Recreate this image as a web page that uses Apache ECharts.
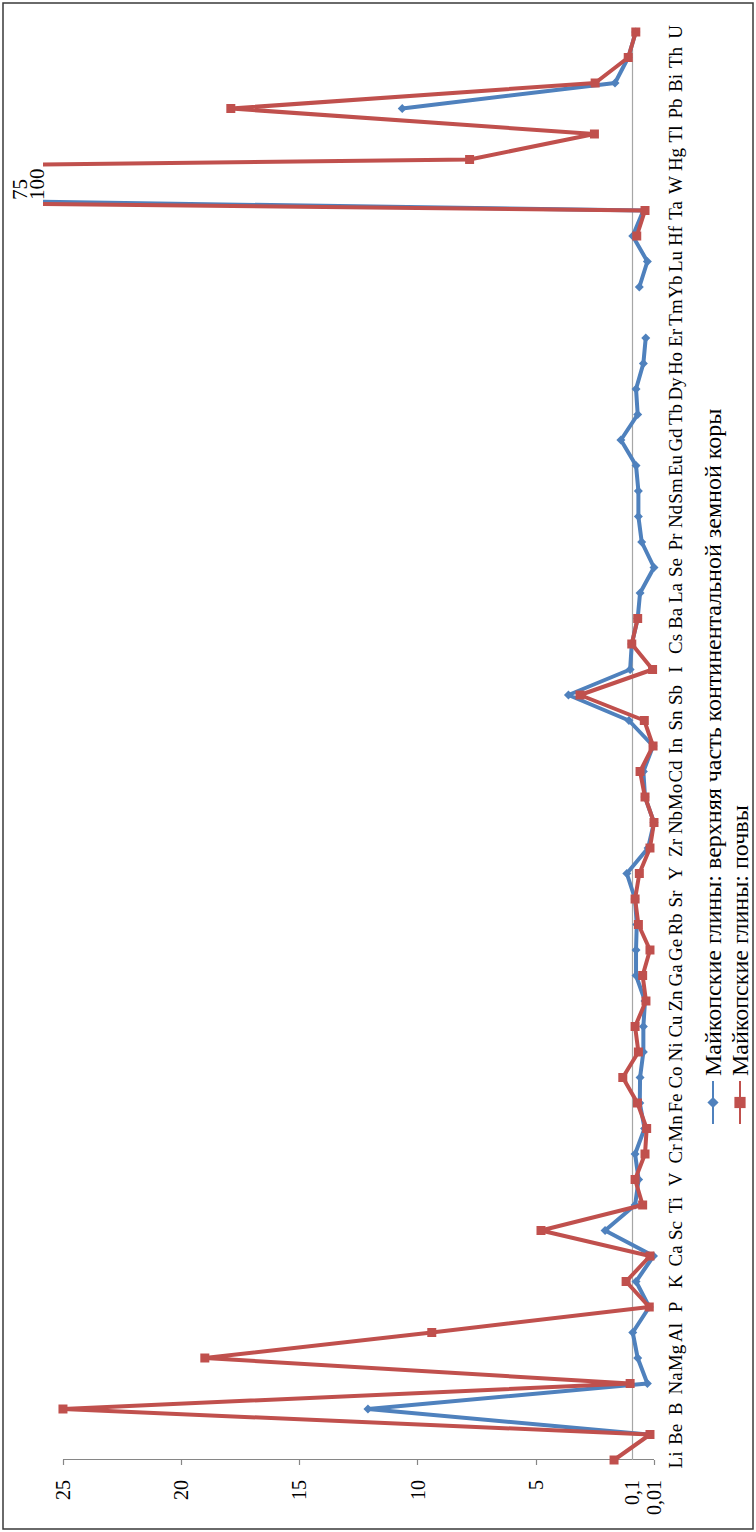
<!DOCTYPE html>
<html>
<head>
<meta charset="utf-8">
<script src="https://cdn.jsdelivr.net/npm/echarts@6/dist/echarts.min.js"></script>
<style>
  html, body { margin: 0; padding: 0; background: #fff; }
  #page { position: relative; width: 756px; height: 1532px; overflow: hidden; background: #fff; }
  /* the chart is laid out landscape and turned a quarter left */
  #chart { position: absolute; left: 0; top: 1532px; width: 1532px; height: 756px;
           transform-origin: 0 0; transform: rotate(-90deg); }
</style>
</head>
<body>
<div id="page"><div id="chart"></div></div>
<script>
// elements along the bottom axis
var elements = ['Li','Be','B','Na','Mg','Al','P','K','Ca','Sc','Ti','V','Cr','Mn','Fe','Co','Ni','Cu','Zn','Ga',
  'Ge','Rb','Sr','Y','Zr','Nb','Mo','Cd','In','Sn','Sb','I','Cs','Ba','La','Se','Pr','Nd','Sm','Eu',
  'Gd','Tb','Dy','Ho','Er','Tm','Yb','Lu','Hf','Ta','W','Hg','Tl','Pb','Bi','Th','U'];

// values in the units of the drawn axis (0 = "0,01" mark, ~0.93 = "0,1" line)
var crust = [null, 0.25, 12.1, 0.28, 0.69, 0.9, 0.2, 0.76, 0.02, 2.07,
  0.8, 0.65, 0.8, 0.4, 0.6, 0.59, 0.45, 0.45, 0.38, 0.76,
  0.76, 0.73, 0.8, 1.15, 0.25, 0.0, 0.38, 0.45, 0.04, 1.06,
  3.62, 1.01, 0.94, 0.69, 0.59, 0.0, 0.52, 0.66, 0.66, 0.76,
  1.4, 0.69, 0.76, 0.45, 0.35, null, 0.62, 0.28, 0.9, 0.45,
  75, null, null, 10.65, 1.65, 1.09, 0.77];

var soils = [1.69, 0.17, 25, 1.01, 19.0, 9.4, 0.2, 1.18, 0.17, 4.78,
  0.48, 0.8, 0.38, 0.31, 0.7, 1.32, 0.66, 0.8, 0.34, 0.48,
  0.17, 0.66, 0.8, 0.62, 0.17, 0.0, 0.38, 0.59, 0.04, 0.41,
  3.13, 0.06, 0.94, 0.69, null, null, null, null, null, null,
  null, null, null, null, null, null, null, null, 0.73, 0.38,
  100, 7.8, 2.52, 17.9, 2.49, 1.09, 0.77];

var seriesNames = ['Майкопские глины: верхняя часть континентальной земной коры',
                   'Майкопские глины: почвы'];

// axis marks: position -> printed label
var tickValues = [0, 0.93, 5, 10, 15, 20, 25];
var tickLabels = ['0,01', '0,1', '5', '10', '15', '20', '25'];
var axisMax = 25.76;
var baseValue = 0.93;

var FONT = '"Liberation Serif", "DejaVu Serif", serif';
var BLUE = '#4F81BD', RED = '#C0504D';

var chart = echarts.init(document.getElementById('chart'), null, { renderer: 'svg', width: 1532, height: 756 });

var wIndex = elements.indexOf('W');

var option = {
  animation: false,
  backgroundColor: '#fff',
  graphic: [{
    type: 'rect', shape: { x: 3, y: 3, width: 1526, height: 750 },
    style: { fill: 'none', stroke: '#3a3a3a', lineWidth: 1.5 }, silent: true
  }],
  grid: { left: 72, right: 32, top: 45, bottom: 102, containLabel: false },
  legend: {
    orient: 'vertical', left: 407, top: 701, padding: 0,
    itemWidth: 43, itemHeight: 14, itemGap: 3,
    textStyle: { fontFamily: FONT, fontSize: 24, lineHeight: 24, color: '#000' },
    data: seriesNames
  },
  xAxis: {
    type: 'category', data: elements, boundaryGap: false,
    axisLine: { show: false }, axisTick: { show: false },
    axisLabel: { interval: 0, margin: 12, fontFamily: FONT, fontSize: 19, color: '#000' }
  },
  yAxis: {
    type: 'value', min: 0, max: axisMax,
    splitLine: { show: false },
    axisLine: { show: false },
    axisTick: { show: true, length: 5, customValues: [0, 5, 10, 15, 20, 25],
                lineStyle: { color: '#868686', width: 1.2 } },
    axisLabel: {
      customValues: tickValues, margin: 20, fontFamily: FONT, fontSize: 20, color: '#000',
      formatter: function (v) {
        var i = tickValues.indexOf(v);
        return i >= 0 ? tickLabels[i] : '';
      }
    }
  },
  series: [{
    name: seriesNames[0], type: 'line', data: crust, z: 3,
    symbol: 'diamond', symbolSize: 9, showSymbol: true,
    lineStyle: { color: BLUE, width: 4 }, itemStyle: { color: BLUE },
    markLine: {
      silent: true, symbol: 'none', z: 1, label: { show: false },
      lineStyle: { type: 'solid' },
      data: [
        [{ coord: [0, 0], lineStyle: { color: '#868686', width: 1.2 } },
         { coord: [0, 25] }],
        { yAxis: baseValue, lineStyle: { color: '#a6a6a6', width: 1.2 } }
      ]
    },
    markPoint: {
      symbolSize: 0, silent: true,
      label: { show: true, position: 'inside', align: 'left', verticalAlign: 'middle',
               offset: [-15, -25], fontFamily: FONT, fontSize: 21, color: '#000',
               formatter: function () { return String(crust[wIndex]); } },
      data: [{ coord: [wIndex, axisMax] }]
    }
  }, {
    name: seriesNames[1], type: 'line', data: soils, z: 4,
    symbol: 'rect', symbolSize: 9, showSymbol: true,
    lineStyle: { color: RED, width: 4 }, itemStyle: { color: RED },
    markPoint: {
      symbolSize: 0, silent: true,
      label: { show: true, position: 'inside', align: 'left', verticalAlign: 'middle',
               offset: [-15, -8], fontFamily: FONT, fontSize: 21, color: '#000',
               formatter: function () { return String(soils[wIndex]); } },
      data: [{ coord: [wIndex, axisMax] }]
    }
  }]
};

chart.setOption(option);
</script>
</body>
</html>
